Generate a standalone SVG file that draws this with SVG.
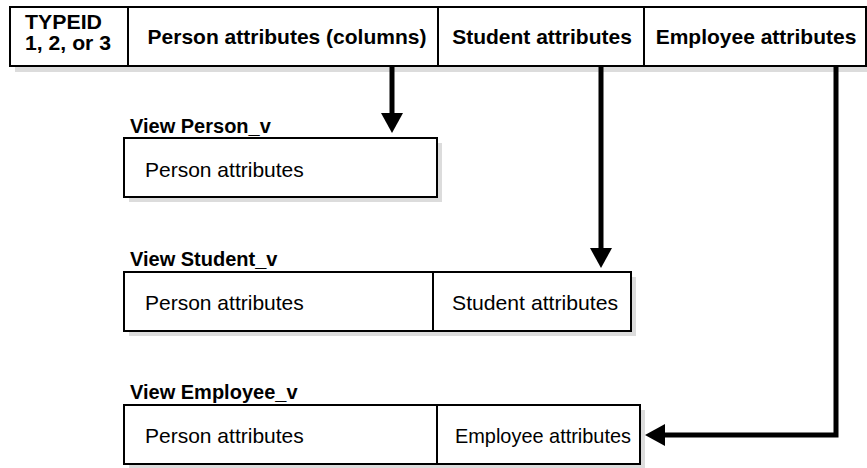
<svg xmlns="http://www.w3.org/2000/svg" width="867" height="468" viewBox="0 0 867 468">
<defs>
<style>
.shadow{fill:#dcdcdc;stroke:none}
.box{fill:#fff;stroke:#000;stroke-width:2}
.div{stroke:#000;stroke-width:2}
.hdr{font-family:"Liberation Sans",Arial,sans-serif;font-weight:bold;font-size:21px;fill:#000}
.tid{font-family:"Liberation Sans",Arial,sans-serif;font-weight:bold;font-size:20px;fill:#000}
.lbl{font-family:"Liberation Sans",Arial,sans-serif;font-weight:bold;font-size:20px;fill:#000}
.cell{font-family:"Liberation Sans",Arial,sans-serif;font-size:21px;fill:#000}
.conn{fill:none;stroke:#000;stroke-width:5}
</style>
<marker id="ah" markerWidth="20" markerHeight="22" refX="0" refY="11" orient="auto" markerUnits="userSpaceOnUse">
<path d="M0,0 L20,11 L0,22 Z" fill="#000"/>
</marker>
</defs>
<rect width="867" height="468" fill="#fff"/>
<g id="table">
<rect class="shadow" x="15" y="12" width="852" height="60"/>
<rect class="box" x="10" y="7" width="856" height="59"/>
<line class="div" x1="128" y1="7" x2="128" y2="66"/>
<line class="div" x1="438" y1="7" x2="438" y2="66"/>
<line class="div" x1="644" y1="7" x2="644" y2="66"/>
<text class="tid" x="25" y="29" textLength="77" lengthAdjust="spacingAndGlyphs">TYPEID</text>
<text class="tid" x="25" y="50" textLength="86" lengthAdjust="spacingAndGlyphs">1, 2, or 3</text>
<text class="hdr" x="287" y="44" text-anchor="middle">Person attributes (columns)</text>
<text class="hdr" x="542" y="44" text-anchor="middle">Student attributes</text>
<text class="hdr" x="756" y="44" text-anchor="middle">Employee attributes</text>
</g>
<g id="person_v">
<text class="lbl" x="130" y="133">View Person_v</text>
<rect class="shadow" x="129" y="143" width="313" height="59"/>
<rect class="box" x="124" y="138" width="313" height="59"/>
<text class="cell" x="145" y="177">Person attributes</text>
</g>
<g id="student_v">
<text class="lbl" x="130" y="266">View Student_v</text>
<rect class="shadow" x="129" y="277" width="507" height="59"/>
<rect class="box" x="124" y="272" width="507" height="59"/>
<line class="div" x1="433" y1="272" x2="433" y2="331"/>
<text class="cell" x="145" y="310">Person attributes</text>
<text class="cell" x="452" y="310" textLength="166" lengthAdjust="spacingAndGlyphs">Student attributes</text>
</g>
<g id="employee_v">
<text class="lbl" x="130" y="399">View Employee_v</text>
<rect class="shadow" x="129" y="410" width="516" height="59"/>
<rect class="box" x="124" y="405" width="516" height="59"/>
<line class="div" x1="437" y1="405" x2="437" y2="464"/>
<text class="cell" x="145" y="443">Person attributes</text>
<text class="cell" x="455" y="443" textLength="176" lengthAdjust="spacingAndGlyphs">Employee attributes</text>
</g>
<g id="connectors">
<path class="conn" d="M392,67 V113" marker-end="url(#ah)"/>
<path class="conn" d="M601,67 V248" marker-end="url(#ah)"/>
<path class="conn" d="M836,67 V435 H665" marker-end="url(#ah)"/>
</g>
</svg>
